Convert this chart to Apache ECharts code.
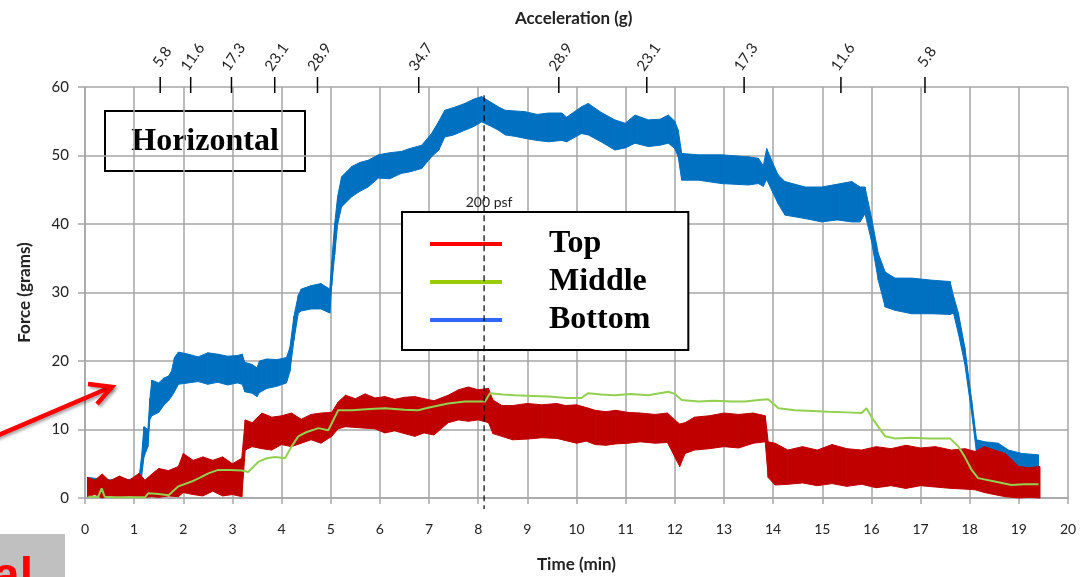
<!DOCTYPE html>
<html><head><meta charset="utf-8">
<script src="https://cdn.jsdelivr.net/npm/echarts@6/dist/echarts.min.js"></script>
<style>html,body{margin:0;padding:0;background:#fff}#c{width:1082px;height:577px}</style>
</head><body><div id="c"></div>
<script>
// ---- Bottom (blue) noisy band: time, lower and upper envelope ----
const bottomT  = [0.05,0.3,0.6,0.9,1.1,1.15,1.2,1.28,1.32,1.36,1.5,1.6,1.7,1.76,1.82,1.9,2.1,2.3,2.5,2.7,2.9,3.1,3.2,3.25,3.4,3.5,3.55,3.7,3.9,4.1,4.17,4.25,4.34,4.4,4.6,4.8,4.98,5.02,5.08,5.14,5.22,5.43,5.6,5.76,5.97,6.2,6.44,6.6,6.85,7.05,7.2,7.32,7.5,7.73,7.9,8.07,8.25,8.41,8.55,8.75,8.95,9.2,9.43,9.7,9.8,10.1,10.24,10.5,10.78,10.99,11.19,11.46,11.7,11.87,12.0,12.07,12.14,12.48,12.95,13.5,13.7,13.8,13.87,14.0,14.1,14.24,14.65,14.99,15.3,15.6,15.77,15.87,16.0,16.14,16.28,16.48,16.82,17.23,17.6,17.67,17.77,17.9,18.04,18.14,18.31,18.58,18.79,19.06,19.4];
const bottomLo = [1.5,1.6,1.5,1.6,1.7,3.0,6.0,7.5,11.5,12.0,12.5,13.5,14.2,14.8,15.5,16.6,16.8,17.0,16.6,16.9,16.5,16.8,16.6,15.5,15.3,14.8,15.4,16.0,16.3,16.8,18.5,23.0,27.0,27.3,27.6,27.6,27.0,31.0,35.5,40.0,42.5,44.0,44.8,45.4,46.7,46.6,47.4,47.6,48.1,49.8,50.8,52.7,53.0,53.7,54.2,54.9,54.3,53.7,53.0,52.8,52.5,52.2,52.0,52.2,52.0,53.2,53.0,52.0,50.8,51.1,51.8,51.3,51.5,51.8,51.0,49.8,46.4,46.4,45.9,45.7,45.9,45.5,46.5,44.5,43.0,41.3,40.8,40.3,40.6,40.3,40.3,41.5,37.6,31.8,27.9,27.4,26.9,26.9,26.8,27.0,24.0,19.6,12.4,6.5,5.8,5.1,4.1,3.8,4.1];
const bottomHi = [3.0,2.8,2.6,2.7,3.0,6.0,10.4,10.0,14.5,17.2,16.8,17.5,17.8,18.5,20.5,21.3,21.0,20.6,21.2,21.0,20.7,20.8,21.0,19.8,19.5,19.0,20.0,20.3,20.2,20.5,22.0,26.5,29.6,30.5,31.0,31.3,30.5,34.5,40.0,44.0,46.9,48.4,49.0,49.3,50.1,50.4,50.6,51.0,51.5,53.2,55.0,56.6,57.0,57.6,58.2,58.6,57.8,57.1,56.6,56.5,56.4,56.0,56.2,56.2,55.6,57.1,57.6,56.3,55.2,54.7,55.9,55.2,55.3,55.9,55.0,53.7,50.3,50.1,50.1,49.8,49.6,48.5,51.0,48.8,47.2,46.2,45.4,45.4,45.8,46.2,45.4,45.4,41.0,35.7,33.0,32.1,32.1,31.8,31.6,29.5,27.0,22.0,14.3,8.5,8.2,8.0,7.0,6.5,6.3];

// ---- Top (red) noisy band ----
const topT  = [0.05,0.2,0.35,0.5,0.7,0.9,1.1,1.22,1.36,1.5,1.7,1.9,2.0,2.2,2.4,2.6,2.8,3.0,3.19,3.26,3.4,3.6,3.8,4.0,4.2,4.4,4.6,4.8,5.02,5.15,5.3,5.5,5.7,5.9,6.1,6.3,6.5,6.71,6.9,7.1,7.39,7.6,7.8,8.0,8.21,8.3,8.48,8.7,9.0,9.3,9.6,9.77,10.0,10.2,10.38,10.6,10.8,11.05,11.3,11.6,11.85,12.0,12.1,12.21,12.4,12.7,13.0,13.3,13.6,13.84,13.9,14.04,14.3,14.6,14.9,15.2,15.5,15.8,16.1,16.4,16.7,17.0,17.3,17.63,17.9,18.11,18.3,18.5,18.72,19.0,19.2,19.43];
const topLo = [0.2,0.5,0.0,0.3,0.2,0.3,0.2,0.1,0.2,0.1,0.3,0.2,0.8,0.5,0.3,1.0,0.3,0.5,0.2,7.0,7.5,7.2,7.0,7.8,7.5,8.0,8.5,8.0,9.0,10.1,10.4,10.3,10.2,10.1,9.5,9.8,9.4,9.0,9.5,9.2,11.0,11.4,11.2,11.4,11.0,9.4,9.0,8.5,8.6,8.8,8.7,8.4,8.0,8.3,7.8,7.7,7.9,8.0,8.2,8.0,8.1,6.0,4.6,6.5,7.0,7.2,7.5,7.3,8.0,8.2,3.0,1.9,2.0,2.2,1.8,2.1,1.7,2.0,1.5,1.8,1.4,1.8,1.6,1.4,1.3,1.2,0.8,0.5,0.2,0.0,0.1,0.0];
const topHi = [3.0,2.6,3.5,2.5,3.2,2.6,3.6,2.6,3.5,4.3,4.0,4.6,6.5,5.5,6.0,5.5,6.0,5.0,5.8,11.4,11.0,12.4,11.8,12.0,12.4,11.5,12.2,12.4,12.5,14.0,15.0,14.5,15.2,14.6,14.8,14.4,14.7,14.8,14.5,14.2,15.0,15.8,16.2,15.8,16.0,14.3,13.5,13.5,13.8,13.6,13.8,13.5,13.6,13.2,12.8,12.6,12.8,12.5,12.4,12.2,12.4,11.4,10.8,11.0,11.8,12.0,12.4,12.2,12.4,12.0,8.2,8.0,7.0,7.5,7.0,7.8,7.2,7.0,7.5,7.2,7.7,7.3,7.5,7.0,7.2,6.8,7.5,7.0,6.5,4.6,4.4,4.6];

// ---- Middle (green) line ----
const midT = [0.07,0.27,0.34,0.4,0.6,0.9,1.22,1.29,1.5,1.7,1.9,2.17,2.35,2.51,2.71,2.95,3.19,3.32,3.53,3.7,3.87,4.07,4.2,4.34,4.5,4.75,4.95,5.15,5.43,5.8,6.1,6.5,6.78,7.0,7.39,7.73,8.14,8.24,8.5,8.75,9.1,9.43,9.8,10.1,10.24,10.5,10.78,11.1,11.46,11.87,12.0,12.14,12.48,12.8,13.16,13.43,13.7,13.9,14.11,14.45,14.8,15.12,15.5,15.8,15.9,16.04,16.28,16.48,16.8,17.16,17.6,17.77,17.9,18.04,18.17,18.51,18.85,19.1,19.4];
const midV = [0.2,0.2,1.4,0.2,0.1,0.1,0.1,0.7,0.6,0.4,1.7,2.4,3.0,3.6,4.1,4.1,4.0,3.8,5.3,5.8,6.0,5.8,7.5,9.0,9.6,10.2,9.9,12.8,12.8,13.0,13.1,12.9,12.8,13.2,13.8,14.1,14.1,15.3,15.1,15.0,14.9,14.8,14.6,14.6,15.3,15.1,15.0,15.2,15.0,15.5,15.2,14.3,14.1,14.2,14.1,14.1,14.3,14.4,13.1,12.8,12.7,12.6,12.5,12.4,13.1,11.4,9.0,8.7,8.8,8.7,8.7,7.5,6.0,4.1,2.9,2.4,1.9,2.0,2.0];

// ---- Top axis (acceleration) ticks ----
const accelT = [1.53,2.15,2.98,3.86,4.73,6.79,9.64,11.43,13.41,15.38,17.09];
const accelLabels = ['5.8','11.6','17.3','23.1','28.9','34.7','28.9','23.1','17.3','11.6','5.8'];

// ---- 200 psf marker ----
const psfTime = 8.12;
const psfLabel = '200 psf';

const xTicks = {min:0, max:20, interval:1};
const yTicks = {min:0, max:60, interval:10};

const pairs = (T, V) => T.map((t, i) => [t, V[i]]);

const gridColor = '#a6a6a6';
const labelColor = '#222';

// Band drawn as a custom series: each item i fills the quad between samples i and i+1.
function band(name, T, L, H, color) {
  return {
    name: name, type: 'custom', coordinateSystem: 'cartesian2d', silent: true,
    itemStyle: {color: color},
    data: T.map((t, i) => [t, L[i], H[i], i]),
    encode: {x: 0, y: [1, 2]},
    renderItem: (params, api) => {
      const i = api.value(3);
      if (i >= T.length - 1) return null;
      const pts = [
        api.coord([T[i], L[i]]), api.coord([T[i + 1], L[i + 1]]),
        api.coord([T[i + 1], H[i + 1]]), api.coord([T[i], H[i]])
      ];
      return {type: 'polygon', shape: {points: pts},
              style: {fill: color, stroke: color, lineWidth: 1}};
    }
  };
}

const chart = echarts.init(document.getElementById('c'));
const option = {
  animation: false,
  title: {text: 'Acceleration (g)', left: 510, top: 5,
          textStyle: {fontFamily: 'Lato', fontWeight: 'bold', fontSize: 17, color: labelColor}},
  grid: {left: 85, right: 14, top: 87, bottom: 79, containLabel: false, outerBoundsMode: 'none'},
  legend: {
    data: [
      {name: 'Top', itemStyle: {color: '#ff0000'}},
      {name: 'Middle', itemStyle: {color: '#99cc00'}},
      {name: 'Bottom', itemStyle: {color: '#3366ff'}}
    ],
    icon: 'rect', orient: 'vertical', left: 402, top: 212,
    itemWidth: 72, itemHeight: 4, itemGap: 6,
    padding: [16, 38, 14, 28],
    backgroundColor: '#fff', borderColor: '#000', borderWidth: 2,
    selectedMode: false,
    textStyle: {fontFamily: 'Liberation Serif', fontWeight: 'bold', fontSize: 32, color: '#000',
                lineHeight: 32, padding: [0, 0, 0, 42]}
  },
  xAxis: {
    type: 'value', min: xTicks.min, max: xTicks.max, interval: xTicks.interval,
    name: 'Time (min)', nameLocation: 'middle', nameGap: 58,
    nameTextStyle: {fontFamily: 'Lato', fontWeight: 'bold', fontSize: 17, color: labelColor},
    axisLine: {show: true, onZero: false, lineStyle: {color: gridColor, width: 1.5}},
    axisTick: {show: true, length: 6, lineStyle: {color: gridColor, width: 1.5}},
    axisLabel: {fontFamily: 'Lato', fontSize: 14, color: labelColor, margin: 24},
    splitLine: {show: true, lineStyle: {color: gridColor, width: 1.5}}
  },
  yAxis: {
    type: 'value', min: yTicks.min, max: yTicks.max, interval: yTicks.interval,
    name: 'Force (grams)', nameLocation: 'middle', nameGap: 52, nameRotate: 90,
    nameTextStyle: {fontFamily: 'Lato', fontWeight: 'bold', fontSize: 17, color: labelColor},
    axisLine: {show: true, lineStyle: {color: gridColor, width: 1.5}},
    axisTick: {show: true, length: 7, lineStyle: {color: gridColor, width: 1.5}},
    axisLabel: {fontFamily: 'Lato', fontSize: 15, color: labelColor, margin: 16},
    splitLine: {show: true, lineStyle: {color: gridColor, width: 1.5}}
  },
  series: [
    band('Bottom', bottomT, bottomLo, bottomHi, '#0070c0'),
    band('Top', topT, topLo, topHi, '#c00000'),
    {name: 'Middle', type: 'line', data: pairs(midT, midV), showSymbol: false, silent: true, z: 3,
     lineStyle: {color: '#92d050', width: 2}, itemStyle: {color: '#92d050'}},
    {name: 'psf', type: 'custom', coordinateSystem: 'cartesian2d', clip: false, silent: true, z: 4,
     data: [[psfTime]], encode: {x: 0},
     renderItem: (params, api) => {
       const t = api.value(0);
       const a = api.coord([t, 58.8]);
       const b = api.coord([t, -1.6]);
       const c = api.coord([t, 43.2]);
       return {type: 'group', children: [
         {type: 'line', shape: {x1: a[0], y1: a[1], x2: b[0], y2: b[1]},
          style: {stroke: '#000', lineWidth: 1.2, lineDash: [6, 4]}},
         {type: 'text', x: c[0] + 5, y: c[1],
          style: {text: psfLabel, font: '14px Lato', fill: labelColor, align: 'center', verticalAlign: 'middle'}}
       ]};
     }},
    {name: 'accel', type: 'custom', coordinateSystem: 'cartesian2d', clip: false, silent: true, z: 5,
     data: accelT.map((t, i) => [t, yTicks.max, i]), encode: {x: 0, y: 1},
     renderItem: (params, api) => {
       const p = api.coord([api.value(0), api.value(1)]);
       const lab = accelLabels[api.value(2)];
       return {type: 'group', children: [
         {type: 'line', shape: {x1: p[0], y1: p[1] - 10, x2: p[0], y2: p[1] + 6},
          style: {stroke: '#000', lineWidth: 1.5}},
         {type: 'text', x: p[0] + 2, y: p[1] - 30, rotation: 55 * Math.PI / 180,
          style: {text: lab, font: '15px Lato', fill: labelColor, align: 'center', verticalAlign: 'middle'}}
       ]};
     }}
  ],
  graphic: [
    {type: 'group', left: 104, top: 110, z: 10, children: [
      {type: 'rect', shape: {x: 0, y: 0, width: 200, height: 60},
       style: {fill: '#fff', stroke: '#000', lineWidth: 2}},
      {type: 'text', x: 100, y: 31,
       style: {text: 'Horizontal', font: 'bold 32px "Liberation Serif"', fill: '#000', align: 'center', verticalAlign: 'middle'}}
    ]},
    {type: 'polyline', z: 20, shape: {points: [[-6, 437], [111, 387]]},
     style: {stroke: '#ff0000', lineWidth: 4.5, shadowBlur: 3, shadowColor: 'rgba(0,0,0,0.35)', shadowOffsetX: 2, shadowOffsetY: 2}},
    {type: 'polyline', z: 20, shape: {points: [[88, 384], [112, 387], [97, 404]]},
     style: {stroke: '#ff0000', lineWidth: 4.5, lineJoin: 'miter', fill: null, shadowBlur: 3, shadowColor: 'rgba(0,0,0,0.35)', shadowOffsetX: 2, shadowOffsetY: 2}},
    {type: 'rect', z: 20, shape: {x: 0, y: 534, width: 65, height: 43}, style: {fill: '#c0c0c0'}},
    {type: 'text', z: 21, x: 33, y: 554,
     style: {text: 'al', font: 'bold 48px "Liberation Sans"', fill: '#ff0000', align: 'right', verticalAlign: 'top'}}
  ]
};
chart.setOption(option);
</script>
</body></html>
